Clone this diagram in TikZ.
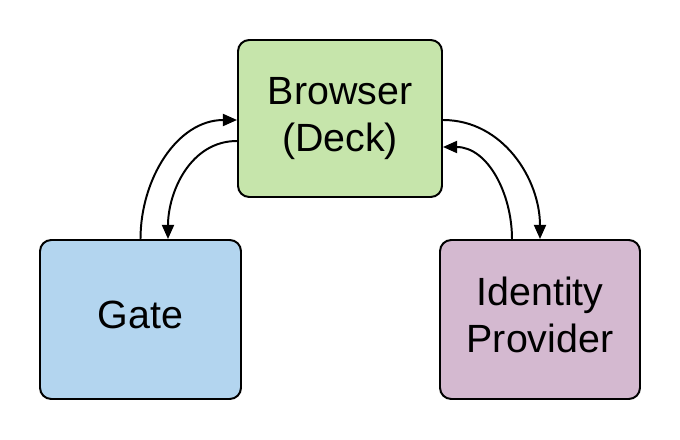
\documentclass[tikz,border=0pt]{standalone}
\usepackage{fontspec}
\setmainfont{Liberation Sans}
\usetikzlibrary{arrows.meta,positioning,calc}
\begin{document}
\begin{tikzpicture}[x=0.025cm,y=-0.025cm]
     \tikzstyle{box_style} = [draw=black,line width=1.4pt,rounded corners=8pt,align=center,font=\fontsize{28}{33.5}\selectfont]
     \tikzstyle{edge_style} = [draw=black,line width=1.4pt,-{Triangle[length=10pt,width=8.5pt]}]
     \useasboundingbox (0,0) rectangle (680,440);
     \node[box_style,fill={rgb,255:red,198;green,229;blue,171},minimum width=204*0.025cm,minimum height=157*0.025cm] (browser) at (340,118.5) {Browser\\(Deck)};
     \node[box_style,fill={rgb,255:red,179;green,213;blue,239},minimum width=201*0.025cm,minimum height=159*0.025cm,text depth=7.2pt] (gate) at (140.5,319.5) {Gate};
     \node[box_style,fill={rgb,255:red,212;green,185;blue,208},minimum width=200*0.025cm,minimum height=159*0.025cm,text depth=7.2pt] (idp) at (540,319.5) {Identity\\Provider};
     \draw[edge_style] (gate.north) to[out=90,in=180] ($(browser.west)+(0,1.5)$);
     \draw[edge_style] ($(browser.west)+(0,22.5)$) to[out=180,in=90] ($(gate.north)+(27.5,0)$);
     \draw[edge_style] ($(browser.east)+(0,1.5)$) to[out=0,in=90] (idp.north);
     \draw[edge_style] ($(idp.north)+(-28,0)$) to[out=90,in=0] ($(browser.east)+(0,28.5)$);
\end{tikzpicture}
\end{document}
